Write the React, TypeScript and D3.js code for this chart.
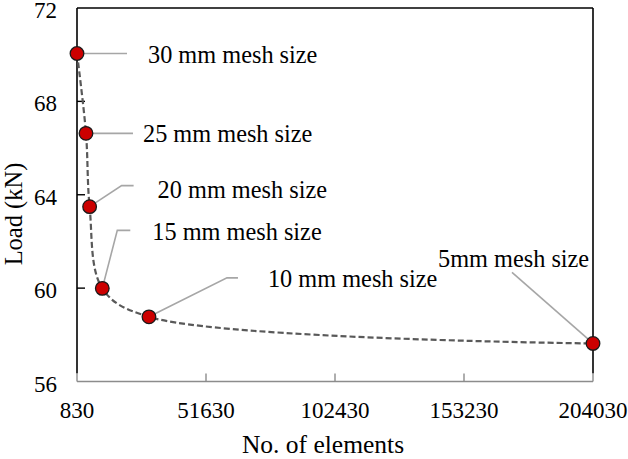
import React from 'react';
import * as d3 from 'd3';

// mesh convergence study: element count vs. failure load
const meshSizes = ['30 mm mesh size', '25 mm mesh size', '20 mm mesh size', '15 mm mesh size', '10 mm mesh size', '5mm mesh size'];
const elements = [830, 4370, 5800, 10790, 29170, 204030];
const loads = [70.05, 66.63, 63.49, 59.99, 58.77, 57.63];

const xTicks = [830, 51630, 102430, 153230, 204030];
const yTicks = [56, 60, 64, 68, 72];

// callout layout: elbow offsets from the point, then the label anchor
const callouts = [
  { elbow: [50, 0], end: [50, 0], text: [71, 9] },
  { elbow: [47, 0], end: [47, 0], text: [57, 9] },
  { elbow: [32, -21], end: [44, -21], text: [68, -9] },
  { elbow: [15, -58], end: [28, -58], text: [50, -48] },
  { elbow: [78, -39], end: [89, -39], text: [119, -30] },
  { elbow: [-81, -71], end: [-81, -71], text: [-155, -76] },
];

const W = 628;
const H = 459;
const m = { left: 77, right: 593, top: 8, bottom: 381.5 };
const serif = '"Liberation Serif", "Times New Roman", serif';

export default function App() {
  const x = d3.scaleLinear().domain([830, 204030]).range([m.left, m.right]);
  const y = d3.scaleLinear().domain([56, 72]).range([m.bottom, m.top]);

  const pts = elements.map((e, i) => ({ e, v: loads[i] }));
  const line = d3
    .line<{ e: number; v: number }>()
    .x(d => x(d.e))
    .y(d => y(d.v))
    .curve(d3.curveCatmullRom.alpha(0.5));

  return (
    <svg width={W} height={H} style={{ position: 'absolute', left: 0, top: 0, background: '#fff' }}>
      {/* frame */}
      <line x1={m.left} x2={m.right} y1={m.top} y2={m.top} stroke="#000" strokeWidth={1.6} />
      <line x1={m.left} x2={m.left} y1={m.top} y2={m.bottom - 8} stroke="#000" strokeWidth={1.6} />
      <line x1={m.right} x2={m.right} y1={m.top} y2={m.bottom - 8} stroke="#000" strokeWidth={1.6} />
      <line x1={m.left} x2={m.right} y1={m.bottom} y2={m.bottom} stroke="#8c8c8c" strokeWidth={1.6} />

      {/* x ticks */}
      {xTicks.map(t => (
        <g key={t}>
          <line x1={x(t)} x2={x(t)} y1={m.bottom} y2={m.bottom - 8} stroke="#8c8c8c" strokeWidth={1.4} />
          <text x={x(t)} y={418} textAnchor="middle" fontFamily={serif} fontSize={23} fill="#000">
            {t}
          </text>
        </g>
      ))}

      {/* y ticks */}
      {yTicks.map(t => (
        <g key={t}>
          {t > 56 && t < 72 && (
            <line x1={m.left} x2={m.left + 8} y1={y(t)} y2={y(t)} stroke="#000" strokeWidth={1.4} />
          )}
          <text x={57} y={y(t) + 2} dy="0.35em" textAnchor="end" fontFamily={serif} fontSize={23} fill="#000">
            {t}
          </text>
        </g>
      ))}

      {/* axis titles */}
      <text x={323} y={453} textAnchor="middle" fontFamily={serif} fontSize={25.5} fill="#000">
        No. of elements
      </text>
      <text
        transform={`translate(22,214) rotate(-90)`}
        textAnchor="middle"
        fontFamily={serif}
        fontSize={24.5}
        fill="#000"
      >
        Load (kN)
      </text>

      {/* smoothed trend */}
      <path d={line(pts) || ''} fill="none" stroke="#595959" strokeWidth={2.2} strokeDasharray="6 3" />

      {/* callouts */}
      {pts.map((p, i) => {
        const px = x(p.e);
        const py = y(p.v);
        const c = callouts[i];
        return (
          <g key={meshSizes[i]}>
            <polyline
              points={`${px},${py} ${px + c.elbow[0]},${py + c.elbow[1]} ${px + c.end[0]},${py + c.end[1]}`}
              fill="none"
              stroke="#a6a6a6"
              strokeWidth={1.6}
            />
            <text x={px + c.text[0]} y={py + c.text[1]} fontFamily={serif} fontSize={24.3} fill="#000">
              {meshSizes[i]}
            </text>
          </g>
        );
      })}

      {/* markers */}
      {pts.map(p => (
        <circle key={p.e} cx={x(p.e)} cy={y(p.v)} r={6.8} fill="#cc0000" stroke="#1a1a1a" strokeWidth={1.3} />
      ))}
    </svg>
  );
}
